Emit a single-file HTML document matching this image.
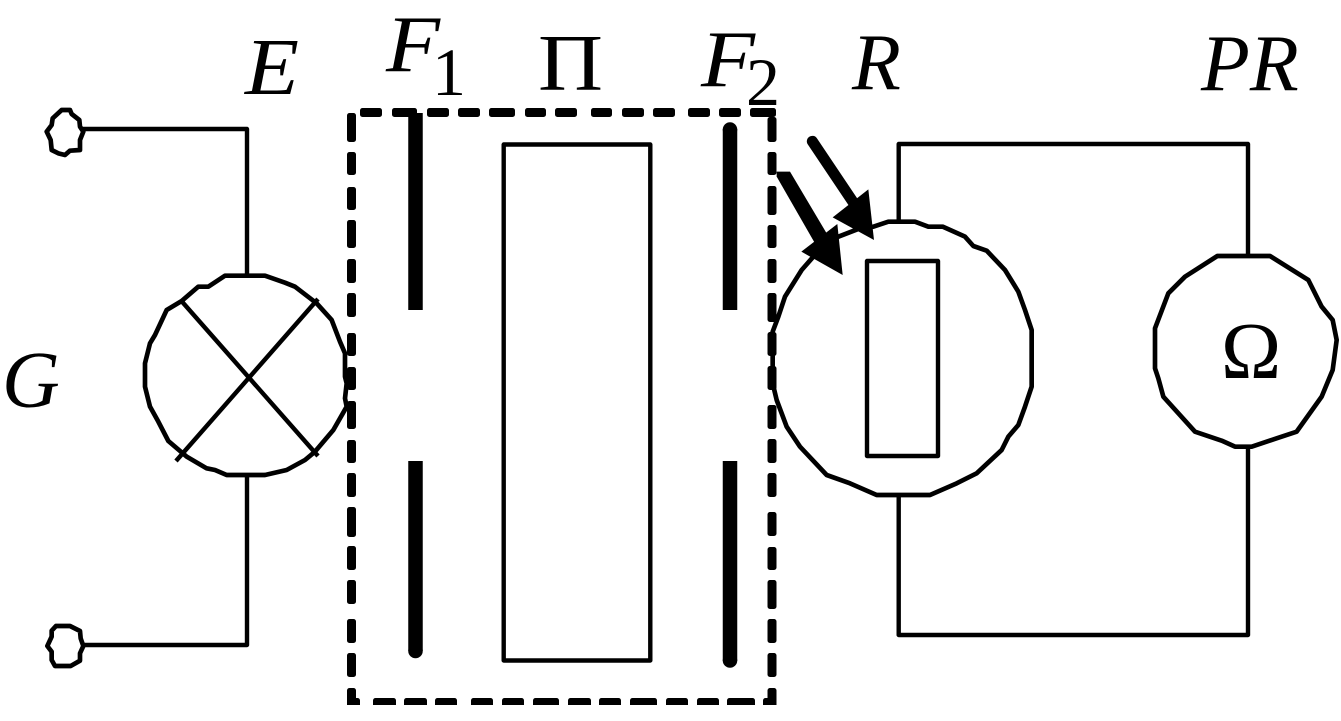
<!DOCTYPE html>
<html><head><meta charset="utf-8"><style>
html,body{margin:0;padding:0;background:#fff;width:1341px;height:721px;overflow:hidden}
svg{display:block}
text{font-family:"Liberation Serif",serif;fill:#000}
.d rect{rx:2.5px;ry:2.5px;fill:#000}
.w{fill:none;stroke:#000;stroke-linejoin:round}
</style></head><body>
<svg width="1341" height="721" viewBox="0 0 1341 721" xmlns="http://www.w3.org/2000/svg">
<g class="d">
<rect x="360" y="108" width="22" height="9"/><rect x="392" y="108" width="25" height="9"/><rect x="427" y="108" width="22" height="9"/><rect x="458" y="108" width="22" height="9"/><rect x="489" y="108" width="26" height="9"/><rect x="525" y="108" width="21" height="9"/><rect x="555" y="108" width="22" height="9"/><rect x="591" y="108" width="21" height="9"/><rect x="622" y="108" width="22" height="9"/><rect x="653" y="108" width="22" height="9"/><rect x="688" y="108" width="22" height="9"/><rect x="719" y="108" width="22" height="9"/><rect x="750" y="108" width="26" height="9"/>
<rect x="347" y="113" width="9" height="29"/><rect x="347" y="152" width="9" height="23"/><rect x="347" y="187" width="9" height="23"/><rect x="347" y="220" width="9" height="28"/><rect x="347" y="259" width="9" height="24"/><rect x="347" y="293" width="9" height="24"/><rect x="347" y="333" width="9" height="23"/><rect x="347" y="367" width="9" height="23"/><rect x="347" y="401" width="9" height="28"/><rect x="347" y="440" width="9" height="23"/><rect x="347" y="473" width="9" height="24"/><rect x="347" y="507" width="9" height="30"/><rect x="347" y="546" width="9" height="24"/><rect x="347" y="580" width="9" height="24"/><rect x="347" y="619" width="9" height="24"/><rect x="347" y="653" width="9" height="24"/><rect x="347" y="688" width="9" height="20"/><rect x="347" y="698" width="13" height="10"/>
<rect x="767.5" y="117" width="9" height="25"/><rect x="767.5" y="152" width="9" height="23"/><rect x="767.5" y="186" width="9" height="29"/><rect x="767.5" y="225" width="9" height="23"/><rect x="767.5" y="259" width="9" height="24"/><rect x="767.5" y="293" width="9" height="29"/><rect x="767.5" y="332" width="9" height="24"/><rect x="767.5" y="366" width="9" height="24"/><rect x="767.5" y="405" width="9" height="24"/><rect x="767.5" y="439" width="9" height="24"/><rect x="767.5" y="473" width="9" height="24"/><rect x="767.5" y="512" width="9" height="24"/><rect x="767.5" y="547" width="9" height="23"/><rect x="767.5" y="580" width="9" height="29"/><rect x="767.5" y="619" width="9" height="24"/><rect x="767.5" y="653" width="9" height="24"/><rect x="767.5" y="688" width="9" height="20"/><rect x="763" y="698" width="13.5" height="10"/>
<rect x="373" y="698" width="23" height="10"/><rect x="404" y="698" width="23" height="10"/><rect x="435" y="698" width="22" height="10"/><rect x="471" y="698" width="22" height="10"/><rect x="502" y="698" width="22" height="10"/><rect x="533" y="698" width="26" height="10"/><rect x="568" y="698" width="23" height="10"/><rect x="599" y="698" width="22" height="10"/><rect x="630" y="698" width="27" height="10"/><rect x="666" y="698" width="22" height="10"/><rect x="697" y="698" width="22" height="10"/><rect x="727" y="698" width="28" height="10"/>
</g>
<rect x="330" y="705" width="470" height="16" fill="#fff"/>
<g class="w" stroke-width="4.4">
<path d="M82 129H247V275M82 645H247V477"/>
<rect x="503.7" y="144.5" width="146.6" height="516"/>
<path d="M898.7 222V144H1248V256M898.7 494V635H1248V446"/>
<rect x="867" y="261" width="71" height="195"/>
<path d="M181 300.5L318 456M318 299L176 461"/>
</g>
<g class="w" stroke-width="14" transform="translate(0,90) scale(.33333)">
<path d="M185 60L210 60L215 72L238 90L240 110L250 125L240 150L240 180L210 182L195 195L175 190L155 180L152 150L140 125L155 105L158 85Z"/>
<path d="M675 557L795 557L855 578L885 590L950 640L995 690L1020 755L1035 790L1035 860L1040 880L1035 925L1040 950L1000 1020L945 1085L915 1110L860 1140L795 1155L680 1155L645 1140L620 1135L560 1100L505 1053L475 995L450 950L435 890L435 820L450 760L465 735L500 660L545 633L595 590L625 590Z"/>
</g>
<g class="w" stroke-width="14" transform="translate(30,440) scale(.33333)">
<path d="M78 558L120 558L150 573L152 595L160 618L150 640L150 662L122 678L75 678L65 660L65 635L52 618L65 590L65 572Z"/>
</g>
<g transform="translate(760,120) scale(.33333)">
<path class="w" stroke-width="14" d="M385 305L465 305L505 320L548 320L615 350L640 378L680 392L735 450L775 515L795 570L815 630L815 800L795 860L775 915L745 950L725 990L650 1060L590 1090L510 1125L350 1125L270 1090L200 1065L120 980L80 920L50 840L38 790L38 635L55 590L75 530L125 450L160 410L235 350L300 325L340 320Z"/>
<path d="M157 64L285 255" fill="none" stroke="#000" stroke-width="33" stroke-linecap="round"/>
<path d="M325 208L342 360L218 292Z" fill="#000"/>
<path d="M50 170L50 155L90 155L200 340L165 370Z" fill="#000"/>
<path d="M232 312L248 465L124 395Z" fill="#000"/>
</g>
<g class="w" stroke-width="14" transform="translate(1140,20) scale(.33333)">
<path d="M232 708L390 708L505 780L545 860L578 900L590 960L578 1050L545 1130L470 1235L410 1255L335 1280L285 1280L245 1262L165 1235L70 1130L55 1075L45 1045L45 925L85 820L135 770Z"/>
</g>
<g stroke="#000" stroke-width="14.5" fill="none">
<path d="M415.5 113V310M415.5 461V651" />
<path d="M730 129V310M730 461V661"/>
</g>
<circle cx="415.500" cy="651" r="7.25"/>
<circle cx="730" cy="129.5" r="7.25"/>
<circle cx="730" cy="660.5" r="7.25"/>
<text x="245" y="94" font-size="80" font-style="italic" textLength="54" lengthAdjust="spacingAndGlyphs">E</text>
<text x="386" y="71" font-size="80" font-style="italic" textLength="54" lengthAdjust="spacingAndGlyphs">F</text>
<text x="432" y="95" font-size="68">1</text>
<text x="538" y="90" font-size="81" textLength="65" lengthAdjust="spacingAndGlyphs">Π</text>
<text x="701" y="86" font-size="80" font-style="italic" textLength="54" lengthAdjust="spacingAndGlyphs">F</text>
<text x="746" y="105" font-size="68">2</text>
<text x="852" y="89" font-size="80" font-style="italic">R</text>
<text x="1201" y="90" font-size="80" font-style="italic">PR</text>
<text x="2" y="407" font-size="80" font-style="italic">G</text>
<text x="1221" y="378" font-size="81">Ω</text>
</svg>
</body></html>
